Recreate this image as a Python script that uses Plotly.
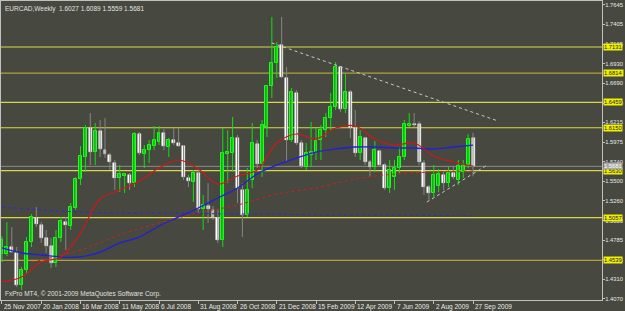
import plotly.graph_objects as go
import pandas as pd
import numpy as np

# ---------------- data ----------------
start = "2007-11-25"
opens = [1.4610, 1.4616, 1.4701, 1.4628, 1.4239, 1.4422, 1.4762, 1.5053, 1.4968, 1.4810,
         1.4713, 1.4507, 1.4810, 1.5005, 1.4956, 1.5175, 1.5527, 1.5795, 1.6147, 1.5855,
         1.6110, 1.5880, 1.5819, 1.5722, 1.5539, 1.5564, 1.5576, 1.5478, 1.6074, 1.5831,
         1.5880, 1.5928, 1.5977, 1.6086, 1.5916, 1.6001, 1.5965, 1.5928, 1.5539, 1.5491,
         1.5600, 1.5163, 1.5199, 1.5151, 1.5053, 1.4786, 1.5831, 1.5843, 1.6025, 1.5394,
         1.5090, 1.5515, 1.5952, 1.5709, 1.6159, 1.6657, 1.6937, 1.7155, 1.6754, 1.6001,
         1.6572, 1.5965, 1.5673, 1.5819, 1.5843, 1.6001, 1.6122, 1.6268, 1.6402, 1.6888,
         1.6378, 1.6584, 1.6147, 1.5843, 1.6025, 1.5734, 1.5673, 1.5867, 1.5697, 1.5418,
         1.5551, 1.5661, 1.5795, 1.6171, 1.6195, 1.6195, 1.5722, 1.5430, 1.5357, 1.5442,
         1.5576, 1.5478, 1.5600, 1.5515, 1.5612, 1.5697, 1.6027]
highs = [1.4830, 1.5005, 1.4944, 1.4701, 1.4458, 1.4823, 1.5102, 1.5187, 1.5005, 1.4907,
         1.4810, 1.4907, 1.5066, 1.5066, 1.5236, 1.5551, 1.5928, 1.6183, 1.6329, 1.6208,
         1.6244, 1.6268, 1.5843, 1.5758, 1.5697, 1.5600, 1.5600, 1.6098, 1.6098, 1.5940,
         1.6001, 1.6171, 1.6171, 1.6135, 1.6025, 1.6147, 1.6147, 1.5940, 1.5576, 1.5637,
         1.5649, 1.5333, 1.5478, 1.5199, 1.5151, 1.6147, 1.6122, 1.6280, 1.6062, 1.5478,
         1.5661, 1.6208, 1.6001, 1.6244, 1.6669, 1.7495, 1.7192, 1.7495, 1.6888, 1.6633,
         1.6608, 1.6001, 1.5965, 1.6220, 1.6147, 1.6183, 1.6329, 1.6572, 1.6949, 1.6900,
         1.6815, 1.6608, 1.6366, 1.6122, 1.6037, 1.5758, 1.5989, 1.5880, 1.5722, 1.5758,
         1.5758, 1.5916, 1.6244, 1.6329, 1.6329, 1.6232, 1.5758, 1.5454, 1.5697, 1.5649,
         1.5612, 1.5673, 1.5673, 1.5758, 1.5758, 1.6074, 1.6089]
lows = [1.4520, 1.4592, 1.4628, 1.4215, 1.4179, 1.4385, 1.4701, 1.4944, 1.4750, 1.4628,
        1.4446, 1.4458, 1.4762, 1.4665, 1.4907, 1.5151, 1.5454, 1.5612, 1.5697, 1.5697,
        1.5795, 1.5782, 1.5637, 1.5394, 1.5369, 1.5357, 1.5394, 1.5430, 1.5819, 1.5661,
        1.5722, 1.5880, 1.5940, 1.5880, 1.5795, 1.5940, 1.5916, 1.5515, 1.5430, 1.5248,
        1.5114, 1.4907, 1.4993, 1.5029, 1.4750, 1.4701, 1.5478, 1.5612, 1.5236, 1.4823,
        1.5066, 1.5418, 1.5661, 1.5551, 1.6037, 1.6511, 1.6754, 1.6754, 1.5734, 1.5977,
        1.5940, 1.5661, 1.5637, 1.5673, 1.5758, 1.5758, 1.6037, 1.6122, 1.6366, 1.6341,
        1.6329, 1.6025, 1.5795, 1.5758, 1.5697, 1.5551, 1.5612, 1.5673, 1.5394, 1.5357,
        1.5394, 1.5600, 1.5758, 1.6159, 1.6159, 1.5697, 1.5333, 1.5272, 1.5309, 1.5369,
        1.5394, 1.5430, 1.5527, 1.5454, 1.5539, 1.5661, 1.5559]
closes = [1.4790, 1.4701, 1.4640, 1.4239, 1.4422, 1.4762, 1.5066, 1.4980, 1.4810, 1.4713,
          1.4507, 1.4810, 1.5017, 1.4968, 1.5187, 1.5527, 1.5807, 1.6147, 1.5855, 1.6110,
          1.5892, 1.5831, 1.5734, 1.5539, 1.5588, 1.5588, 1.5478, 1.6074, 1.5843, 1.5880,
          1.5940, 1.6001, 1.6086, 1.5928, 1.6001, 1.5965, 1.5928, 1.5551, 1.5503, 1.5600,
          1.5163, 1.5211, 1.5163, 1.5053, 1.4786, 1.5843, 1.5855, 1.6025, 1.5418, 1.5090,
          1.5394, 1.5965, 1.5709, 1.6183, 1.6657, 1.6937, 1.7131, 1.6766, 1.6001, 1.6584,
          1.5965, 1.5685, 1.5843, 1.5855, 1.5989, 1.6122, 1.6268, 1.6402, 1.6888, 1.6378,
          1.6584, 1.6147, 1.5843, 1.6037, 1.5734, 1.5673, 1.5880, 1.5697, 1.5418, 1.5637,
          1.5661, 1.5795, 1.6195, 1.6195, 1.6183, 1.5734, 1.5430, 1.5357, 1.5576, 1.5588,
          1.5478, 1.5600, 1.5551, 1.5685, 1.5685, 1.6013, 1.5681]

# moving averages
ma_fast_weeks = list(range(0, 97, 4))
ma_fast_red = [1.4276, 1.4336, 1.4519, 1.4580, 1.4871, 1.5284, 1.5394, 1.5503, 1.5661, 1.5758,
               1.5649, 1.5466, 1.5564, 1.5637, 1.5965, 1.6074, 1.6013, 1.6147, 1.6171, 1.6013,
               1.5940, 1.5965, 1.5807, 1.5734, 1.5685]
ma_mid_blue = [1.4689, 1.4628, 1.4604, 1.4580, 1.4580, 1.4640, 1.4750, 1.4822, 1.4956, 1.5066,
               1.5175, 1.5296, 1.5418, 1.5588, 1.5697, 1.5782, 1.5855, 1.5892, 1.5916, 1.5916,
               1.5904, 1.5904, 1.5892, 1.5916, 1.5940]
ma_slow_red_weeks = [6, 8, 16, 24, 32, 40, 48, 56, 64, 72, 80, 88, 96]
ma_slow_red = [1.4519, 1.4543, 1.4665, 1.4847, 1.4993, 1.5114, 1.5211, 1.5345, 1.5418, 1.5527,
               1.5588, 1.5612, 1.5624]
ma_slow_blue_weeks = [0, 8, 16, 24, 32, 40, 48, 56, 64, 72, 80, 88, 96]
ma_slow_blue = [1.5187, 1.5151, 1.5126, 1.5114, 1.5114, 1.5108, 1.5102, 1.5102, 1.5090, 1.5090,
                1.5090, 1.5084, 1.5078]

# horizontal levels and trend lines
levels = [1.7131, 1.6814, 1.6459, 1.6150, 1.5630, 1.5057, 1.4539]
level_dim = [False, True, False, False, False, False, True]
bid_price = 1.5681
resist_weeks = [55.0, 101.1]
resist_prices = [1.7180, 1.6232]
support_weeks = [86.6, 98.9]
support_prices = [1.5248, 1.5697]

price_ticks = [1.7645, 1.7405, 1.7165, 1.6930, 1.6690, 1.6450, 1.6215, 1.5975, 1.5740,
               1.5500, 1.5260, 1.5020, 1.4785, 1.4545, 1.4310, 1.4070]
date_ticks = ["2007-11-25", "2008-01-20", "2008-03-16", "2008-05-11", "2008-07-06",
              "2008-08-31", "2008-10-26", "2008-12-21", "2009-02-15", "2009-04-12",
              "2009-06-07", "2009-08-02", "2009-09-27"]
date_labels = ["25 Nov 2007", "20 Jan 2008", "16 Mar 2008", "11 May 2008", "6 Jul 2008",
               "31 Aug 2008", "26 Oct 2008", "21 Dec 2008", "15 Feb 2009", "12 Apr 2009",
               "7 Jun 2009", "2 Aug 2009", "27 Sep 2009"]
title_text = "EURCAD,Weekly  1.6027 1.6089 1.5559 1.5681"
copyright_text = "FxPro MT4, \u00a9 2001-2009 MetaQuotes Software Corp."

# ---------------- build ----------------
t0 = pd.Timestamp(start)
def wk(w):
    return t0 + pd.Timedelta(days=7 * w)

dates = pd.date_range(start, periods=len(opens), freq="7D")
O = np.array(opens); H = np.array(highs); L = np.array(lows); C = np.array(closes)
bull = C >= O
bear = ~bull

BG = "#47483f"
FONT = "Liberation Sans"
FS = 6.5
FSA = 5.8
week_ms = 7 * 86400000
body_w = 0.6 * week_ms

fig = go.Figure()

def wick_xy(mask):
    xs, ys = [], []
    for d, h, l in zip(dates[mask], H[mask], L[mask]):
        xs += [d, d, None]
        ys += [l, h, None]
    return xs, ys

xs, ys = wick_xy(bear)
fig.add_trace(go.Scatter(x=xs, y=ys, mode="lines", line=dict(color="#858585", width=1),
                         hoverinfo="skip", showlegend=False))
xs, ys = wick_xy(bull)
fig.add_trace(go.Scatter(x=xs, y=ys, mode="lines", line=dict(color="#10e010", width=1),
                         hoverinfo="skip", showlegend=False))

fig.add_trace(go.Bar(x=dates[bear], y=(O - C)[bear], base=C[bear], width=body_w,
                     marker=dict(color="#ffffff", line=dict(color="#ffffff", width=0.5)),
                     showlegend=False))
fig.add_trace(go.Bar(x=dates[bull], y=(C - O)[bull], base=O[bull], width=body_w,
                     marker=dict(color="#18a818", line=dict(color="#20ff20", width=1)),
                     showlegend=False))

# moving averages
fig.add_trace(go.Scatter(x=[wk(w) for w in ma_slow_blue_weeks], y=ma_slow_blue, mode="lines",
                         line=dict(color="#2a2ad8", width=1, dash="dot", shape="spline"),
                         showlegend=False))
fig.add_trace(go.Scatter(x=[wk(w) for w in ma_slow_red_weeks], y=ma_slow_red, mode="lines",
                         line=dict(color="#d02020", width=1, dash="dot", shape="spline"),
                         showlegend=False))
fig.add_trace(go.Scatter(x=[wk(w) for w in ma_fast_weeks], y=ma_mid_blue, mode="lines",
                         line=dict(color="#2020d8", width=1.3, shape="spline"),
                         showlegend=False))
fig.add_trace(go.Scatter(x=[wk(w) for w in ma_fast_weeks], y=ma_fast_red, mode="lines",
                         line=dict(color="#d01818", width=1.2, shape="spline"),
                         showlegend=False))

# trend lines
fig.add_trace(go.Scatter(x=[wk(w) for w in resist_weeks], y=resist_prices, mode="lines",
                         line=dict(color="#c8c8c8", width=1, dash="dot"), showlegend=False))
fig.add_trace(go.Scatter(x=[wk(w) for w in support_weeks], y=support_prices, mode="lines",
                         line=dict(color="#c8c8c8", width=1, dash="dot"), showlegend=False))

shapes = []
for lv, dim in zip(levels, level_dim):
    shapes.append(dict(type="line", xref="paper", x0=0, x1=1, yref="y", y0=lv, y1=lv,
                       line=dict(color="#b0a038" if dim else "#d8d848", width=1.2),
                       layer="below"))
shapes.append(dict(type="line", xref="paper", x0=0, x1=1, yref="y", y0=bid_price, y1=bid_price,
                   line=dict(color="#8c8c8c", width=1), layer="below"))

annotations = []
for lv in levels:
    annotations.append(dict(x=1, xref="paper", xanchor="left", xshift=1, y=lv, yref="y",
                            text=f"{lv:.4f}", showarrow=False, bgcolor="#f0f000",
                            font=dict(family=FONT, size=FSA, color="#202020"), borderpad=0))
annotations.append(dict(x=1, xref="paper", xanchor="left", xshift=1, y=bid_price, yref="y",
                        text=f"{bid_price:.4f}", showarrow=False, bgcolor="#a8a8a8",
                        font=dict(family=FONT, size=FSA, color="#ffffff"), borderpad=0))
for d, lab in zip(date_ticks, date_labels):
    annotations.append(dict(x=d, xref="x", xanchor="left", xshift=0, y=0, yref="paper",
                            yanchor="top", yshift=-1, text=lab, showarrow=False,
                            font=dict(family=FONT, size=FS, color="#e8e8e8")))
annotations.append(dict(x=0, xref="paper", xanchor="left", xshift=2, y=1, yref="paper",
                        yanchor="top", yshift=-2, text=title_text, showarrow=False,
                        font=dict(family=FONT, size=FS, color="#e0e0e0")))
annotations.append(dict(x=0, xref="paper", xanchor="left", xshift=2, y=0, yref="paper",
                        yanchor="bottom", yshift=0, text=copyright_text, showarrow=False,
                        font=dict(family=FONT, size=FS, color="#e0e0e0")))

x_range = [t0 - pd.Timedelta(days=1.4), t0 + pd.Timedelta(days=856)]

fig.update_layout(
    width=625, height=311,
    margin=dict(l=1, r=23, t=1, b=11, pad=0),
    paper_bgcolor=BG, plot_bgcolor=BG,
    barmode="overlay", bargap=0,
    showlegend=False,
    shapes=shapes, annotations=annotations,
    xaxis=dict(type="date", range=x_range, tickvals=date_ticks, showticklabels=False,
               ticks="outside", ticklen=3, tickcolor="#c0c0c0", showgrid=False,
               zeroline=False, showline=True, linecolor="#c0c0c0", linewidth=1,
               mirror=True, automargin=False, fixedrange=True),
    yaxis=dict(range=[1.4057, 1.7690], side="right", tickvals=price_ticks,
               ticktext=[f"{p:.4f}" for p in price_ticks], ticks="outside", ticklen=2,
               tickcolor="#c0c0c0", tickfont=dict(family=FONT, size=FSA, color="#e8e8e8"),
               ticklabelstandoff=-1,
               showgrid=False, zeroline=False, showline=True, linecolor="#c0c0c0",
               linewidth=1, mirror=True, automargin=False, fixedrange=True),
)

fig.write_html("out.html")
